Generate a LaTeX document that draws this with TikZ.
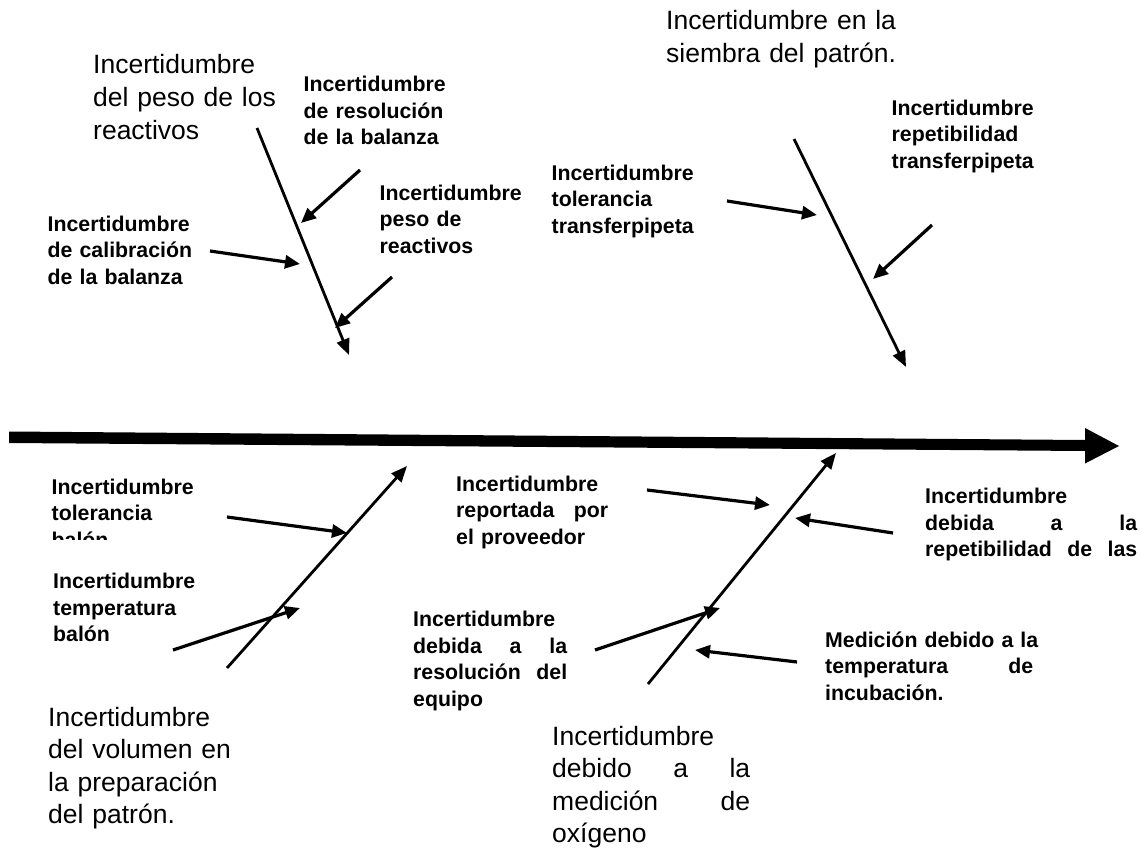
\documentclass[tikz,border=0pt]{standalone}
\usepackage{fontspec}
\setmainfont{Liberation Sans}
\usetikzlibrary{arrows.meta}
\newcommand{\jline}[2]{\makebox[#1][l]{#2}}
\begin{document}
\begin{tikzpicture}[x=1pt,y=-1pt,
  lbl/.style={font=\bfseries\fontsize{21.3}{26.5}\selectfont, anchor=base west, inner sep=0pt, text width=260pt, align=left},
  big/.style={font=\fontsize{26.5}{32.6}\selectfont, anchor=base west, inner sep=0pt, text width=260pt, align=left},
  bone/.style={line width=2.8pt, -{Triangle[length=16pt,width=13pt]}},
  cause/.style={line width=3.2pt, -{Triangle[length=15pt,width=13pt]}}]
\useasboundingbox (0,0) rectangle (1141,851);

% spine (main arrow)
\fill (9,431.5) -- (1085,440) -- (1085,428) -- (1119,446) -- (1085,463.5) -- (1085,451) -- (9,443) -- cycle;

% labels
\node[big] (tlh) at (93,74) {Incertidumbre\\del peso de los\\reactivos};
\node[lbl] (tl1) at (303.5,92) {Incertidumbre\\de resolución\\de la balanza};
\node[lbl] (tl2) at (379.5,200) {Incertidumbre\\peso de\\reactivos};
\node[lbl] (tl3) at (47.5,231) {Incertidumbre\\de calibración\\de la balanza};
\node[big] (trh) at (666,30) {Incertidumbre en la\\siembra del patrón.};
\node[lbl] (tr1) at (551.5,180) {Incertidumbre\\tolerancia\\transferpipeta};
\node[lbl] (tr2) at (891.5,115) {Incertidumbre\\repetibilidad\\transferpipeta};
\begin{scope}
  \clip (40,470) rectangle (260,539);
  \node[lbl] (bl1) at (51.5,494) {Incertidumbre\\tolerancia\\balón};
\end{scope}
\node[lbl] (bl2) at (53,588.5) {Incertidumbre\\temperatura\\balón};
\node[big] (blh) at (48,726) {Incertidumbre\\del volumen en\\la preparación\\del patrón.};
\node[lbl] (br1) at (456,491) {Incertidumbre\\\jline{152pt}{reportada\hfill por}\\el proveedor};
\node[lbl] (br2) at (925,503.5) {Incertidumbre\\\jline{212pt}{debida\hfill a\hfill la}\\\jline{212pt}{repetibilidad\hfill de\hfill las}};
\node[lbl] (br3) at (413,626.5) {Incertidumbre\\\jline{154pt}{debida\hfill a\hfill la}\\\jline{154pt}{resolución\hfill del}\\equipo};
\node[lbl] (br4) at (825,647) {Medición debido a la\\\jline{208pt}{temperatura\hfill de}\\incubación.};
\node[big] (brh) at (552,745) {Incertidumbre\\\jline{198pt}{debido\hfill a\hfill la}\\\jline{198pt}{medición\hfill de}\\oxígeno};

% coordinates
\coordinate (b1s) at (257,128);  \coordinate (b1e) at (349,355);
\coordinate (c11) at (360,170);  \coordinate (t11) at (301,223);
\coordinate (c12) at (210,251);  \coordinate (t12) at (300,264);
\coordinate (c13) at (392,277);  \coordinate (t13) at (335,328);

\coordinate (b2s) at (794,139);  \coordinate (b2e) at (906,367);
\coordinate (c21) at (727,201);  \coordinate (t21) at (817,215);
\coordinate (c22) at (932,225);  \coordinate (t22) at (873,279);

\coordinate (b3s) at (227,668);  \coordinate (b3e) at (407,466);
\coordinate (c31) at (227,517);  \coordinate (t31) at (347,533);
\coordinate (c32) at (173,650);  \coordinate (t32) at (300,608);

\coordinate (b4s) at (648,684);  \coordinate (b4e) at (836,453);
\coordinate (c41) at (647,490);  \coordinate (t41) at (770,505);
\coordinate (c42) at (893,533);  \coordinate (t42) at (795,518);
\coordinate (c43) at (595,650);  \coordinate (t43) at (720,608);
\coordinate (c44) at (797,662);  \coordinate (t44) at (695,650);

% bones
\draw[bone] (b1s) -- (b1e);
\draw[bone] (b2s) -- (b2e);
\draw[bone] (b3s) -- (b3e);
\draw[bone] (b4s) -- (b4e);

% causes
\draw[cause] (c11) -- (t11);
\draw[cause] (c12) -- (t12);
\draw[cause] (c13) -- (t13);
\draw[cause] (c21) -- (t21);
\draw[cause] (c22) -- (t22);
\draw[cause] (c31) -- (t31);
\draw[cause] (c32) -- (t32);
\draw[cause] (c41) -- (t41);
\draw[cause] (c42) -- (t42);
\draw[cause] (c43) -- (t43);
\draw[cause] (c44) -- (t44);
\end{tikzpicture}
\end{document}
